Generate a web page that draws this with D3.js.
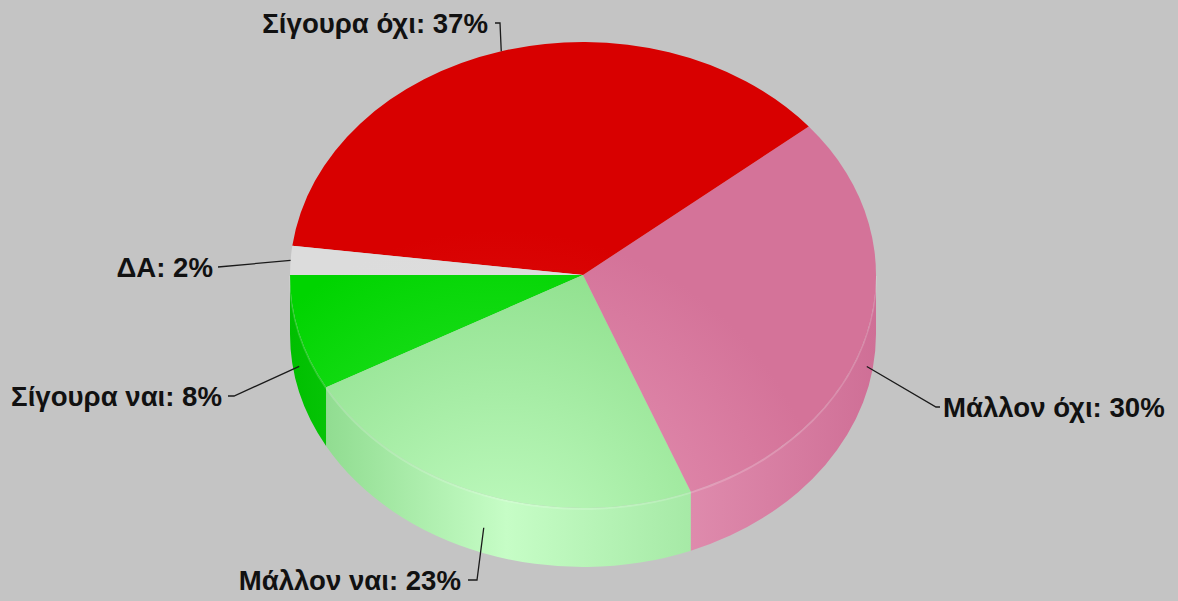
<!DOCTYPE html>
<html>
<head>
<meta charset="utf-8">
<script src="https://cdn.jsdelivr.net/npm/d3@7"></script>
<style>
  html, body { margin: 0; padding: 0; background: #c4c4c4; }
  svg { display: block; }
</style>
</head>
<body>
<svg id="chart" width="1178" height="601"></svg>
<script>
// ---- data ----
const categories = ["Σίγουρα ναι", "Μάλλον ναι", "Μάλλον όχι", "Σίγουρα όχι", "ΔΑ"];
const values = [8, 23, 30, 37, 2];
const labelTexts = categories.map((c, i) => `${c}: ${values[i]}%`);

// ---- styles ----
const topBase  = ["#00d400", "#8cde8a", "#d47399", "#d80000", "#dcdcdc"];
const topLight = ["#3ae83a", "#c2fcc2", "#ea9bbb", "#e42020", "#e2e2e2"];
const sideDark = ["#00bf00", "#86d686", "#cf6f96", "#c80000", "#cfcfcf"];
const sideLight= ["#22dc22", "#c6fdc6", "#eea6c3", "#e01010", "#e0e0e0"];

// ---- layout ----
const W = 1178, H = 601;
const cx = 583, cy = 275, rx = 293, ry = 233, depth = 59;
const fontSize = 27.6;
// label layout: elbow point, end of leader x, text x, text anchor
const labelLayout = [
  { elbow: [234, 396], endX: 228, textX: 222, anchor: "end" },
  { elbow: [477, 580], endX: 468, textX: 461, anchor: "end" },
  { elbow: [936, 407], endX: 940, textX: 943, anchor: "start" },
  { elbow: [500, 23],  endX: 495, textX: 488, anchor: "end" },
  { elbow: [218, 267], endX: 218, textX: 213, anchor: "end" }
];

const svg = d3.select("#chart");
svg.append("rect").attr("width", W).attr("height", H).attr("fill", "#c4c4c4");
const defs = svg.append("defs");

const pie = d3.pie().sort(null).value(d => d)
  .startAngle(3 * Math.PI / 2).endAngle(-Math.PI / 2);
const arcs = pie(values);

const P = (t, dz = 0) => [cx + rx * Math.cos(t), cy + ry * Math.sin(t) + dz];
const fmt = p => `${p[0].toFixed(2)},${p[1].toFixed(2)}`;

arcs.forEach((a, i) => {
  const g = defs.append("radialGradient").attr("id", "top" + i)
    .attr("gradientUnits", "userSpaceOnUse")
    .attr("cx", 500).attr("cy", 560).attr("r", 330);
  g.append("stop").attr("offset", 0).attr("stop-color", topLight[i]);
  g.append("stop").attr("offset", 1).attr("stop-color", topBase[i]);
  const s = defs.append("linearGradient").attr("id", "side" + i)
    .attr("gradientUnits", "userSpaceOnUse")
    .attr("x1", cx - rx).attr("x2", cx + rx).attr("y1", 0).attr("y2", 0);
  s.append("stop").attr("offset", 0).attr("stop-color", sideDark[i]);
  s.append("stop").attr("offset", 0.37).attr("stop-color", sideLight[i]);
  s.append("stop").attr("offset", 1).attr("stop-color", sideDark[i]);
});

const slices = arcs.map((a, i) => {
  const t0 = a.startAngle - Math.PI / 2, t1 = a.endAngle - Math.PI / 2;
  return { i, lo: Math.min(t0, t1), hi: Math.max(t0, t1) };
});

// sides
const sideG = svg.append("g");
slices.forEach(s => {
  const a = Math.max(s.lo, 0), b = Math.min(s.hi, Math.PI);
  if (b <= a) return;
  const d = `M${fmt(P(a))} A${rx},${ry} 0 0 1 ${fmt(P(b))} L${fmt(P(b, depth))} A${rx},${ry} 0 0 0 ${fmt(P(a, depth))} Z`;
  sideG.append("path").attr("d", d).attr("fill", `url(#side${s.i})`);
  sideG.append("path")
    .attr("d", `M${fmt(P(a, 1))} A${rx},${ry} 0 0 1 ${fmt(P(b, 1))}`)
    .attr("fill", "none").attr("stroke", "#ffffff").attr("stroke-opacity", 0.18).attr("stroke-width", 2);
});

// tops
const topG = svg.append("g");
slices.forEach(s => {
  const large = (s.hi - s.lo) > Math.PI ? 1 : 0;
  const d = `M${cx},${cy} L${fmt(P(s.lo))} A${rx},${ry} 0 ${large} 1 ${fmt(P(s.hi))} Z`;
  topG.append("path").attr("d", d).attr("fill", `url(#top${s.i})`);
});

// labels
const labG = svg.append("g");
slices.forEach(s => {
  const i = s.i, L = labelLayout[i];
  const mid = (s.lo + s.hi) / 2;
  const anchor = P(mid, Math.sin(mid) > 0 ? depth / 2 + 4 : 0);
  const pts = [anchor, L.elbow, [L.endX, L.elbow[1]]];
  labG.append("path").attr("d", d3.line()(pts))
    .attr("fill", "none").attr("stroke", "#1a1a1a").attr("stroke-width", 1.3);
  labG.append("text")
    .attr("x", L.textX).attr("y", L.elbow[1] + fontSize * 0.358)
    .attr("text-anchor", L.anchor)
    .attr("font-family", "'Liberation Sans', Arial, sans-serif")
    .attr("font-weight", "bold").attr("font-size", fontSize)
    .attr("fill", "#111")
    .text(labelTexts[i]);
});
</script>
</body>
</html>
